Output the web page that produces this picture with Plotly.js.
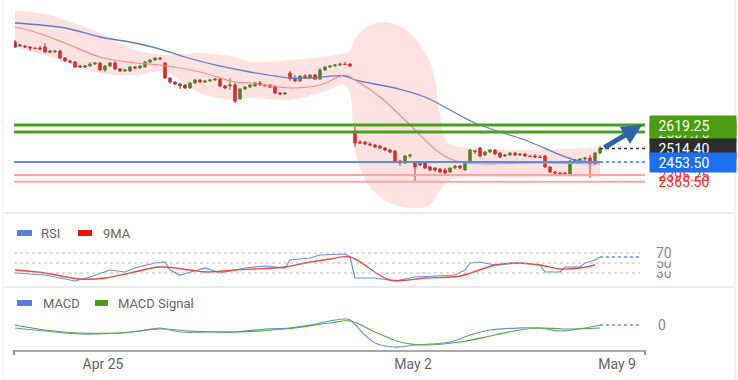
<!DOCTYPE html>
<html><head><meta charset="utf-8">
<script src="https://cdn.plot.ly/plotly-3.0.1.min.js"></script>
<style>html,body{margin:0;padding:0;background:#fff;}#chart{width:738px;height:380px;}</style>
</head><body><div id="chart"></div>
<script>
// ---------- DATA ----------
const open = [
2991.1,2973.2,2973.2,2968.7,2964.2,2964.2,2968.7,2950.8,2946.3,2950.8,
2919.4,2906.0,2901.5,2883.6,2879.1,2883.6,2892.5,2897.0,2865.7,2883.6,
2897.0,2870.1,2861.2,2861.2,2879.1,2874.6,2879.1,2901.5,2910.5,2919.4,
2897.0,2829.8,2811.9,2802.9,2798.5,2785.0,2807.4,2820.9,2811.9,2816.4,
2820.9,2825.3,2794.0,2794.0,2798.5,2735.7,2780.5,2789.5,2794.0,2807.4,
2798.5,2798.5,2789.5,2762.6,2758.1,2852.2,2825.3,2816.4,2838.8,2829.8,
2843.3,2825.3,2865.7,2879.1,2883.6,2888.1,2892.5,2892.5,2587.9,2543.1,
2543.1,2534.1,2529.7,2525.2,2516.2,2507.3,2502.8,2458.0,2449.0,2480.4,
2453.5,2440.1,2449.0,2431.1,2426.6,2422.1,2417.7,2408.7,2426.6,2435.6,
2417.7,2449.0,2498.3,2516.2,2484.9,2498.3,2507.3,2493.8,2480.4,2484.9,
2493.8,2484.9,2489.3,2480.4,2480.4,2475.9,2480.4,2431.1,2408.7,2404.2,
2404.2,2399.7,2458.0,2462.5,2466.9,2471.4,2444.5,2493.8];
const high = [
3000.1,2982.1,2977.7,2973.2,2968.7,2973.2,2986.6,2955.3,2955.3,2955.3,
2923.9,2910.5,2906.0,2888.1,2888.1,2901.5,2901.5,2901.5,2888.1,2901.5,
2906.0,2874.6,2870.1,2883.6,2883.6,2888.1,2906.0,2914.9,2923.9,2923.9,
2901.5,2834.3,2816.4,2807.4,2802.9,2811.9,2825.3,2825.3,2820.9,2825.3,
2829.8,2829.8,2798.5,2829.8,2807.4,2785.0,2794.0,2802.9,2811.9,2816.4,
2802.9,2802.9,2798.5,2767.1,2767.1,2861.2,2843.3,2843.3,2847.7,2847.7,
2847.7,2874.6,2883.6,2888.1,2892.5,2897.0,2901.5,2897.0,2610.3,2552.1,
2547.6,2543.1,2534.1,2529.7,2520.7,2511.7,2507.3,2462.5,2484.9,2489.3,
2458.0,2458.0,2453.5,2435.6,2431.1,2426.6,2426.6,2431.1,2440.1,2440.1,
2458.0,2511.7,2507.3,2520.7,2502.8,2511.7,2511.7,2498.3,2489.3,2498.3,
2498.3,2493.8,2493.8,2484.9,2489.3,2484.9,2484.9,2435.6,2413.2,2408.7,
2408.7,2462.5,2466.9,2471.4,2475.9,2484.9,2498.3,2525.2];
const low = [
2964.2,2968.7,2964.2,2950.8,2959.7,2955.3,2941.8,2941.8,2941.8,2914.9,
2901.5,2897.0,2874.6,2874.6,2874.6,2883.6,2888.1,2861.2,2856.7,2879.1,
2865.7,2856.7,2856.7,2856.7,2870.1,2870.1,2879.1,2897.0,2906.0,2910.5,
2825.3,2802.9,2798.5,2780.5,2780.5,2780.5,2802.9,2807.4,2807.4,2811.9,
2816.4,2789.5,2780.5,2776.1,2717.8,2731.3,2776.1,2785.0,2789.5,2794.0,
2789.5,2785.0,2758.1,2753.7,2753.7,2816.4,2811.9,2811.9,2825.3,2825.3,
2820.9,2820.9,2861.2,2874.6,2879.1,2883.6,2888.1,2879.1,2520.7,2534.1,
2529.7,2525.2,2516.2,2511.7,2502.8,2493.8,2449.0,2435.6,2444.5,2471.4,
2363.9,2435.6,2422.1,2413.2,2408.7,2404.2,2399.7,2404.2,2422.1,2422.1,
2413.2,2444.5,2489.3,2475.9,2480.4,2493.8,2484.9,2471.4,2475.9,2480.4,
2480.4,2480.4,2475.9,2475.9,2471.4,2471.4,2426.6,2404.2,2399.7,2395.3,
2395.3,2395.3,2449.0,2453.5,2458.0,2381.8,2440.1,2489.3];
const close = [
2968.7,2977.7,2968.7,2964.2,2962.0,2959.7,2946.3,2946.3,2950.8,2919.4,
2906.0,2901.5,2879.1,2879.1,2883.6,2892.5,2897.0,2865.7,2883.6,2897.0,
2870.1,2861.2,2865.7,2879.1,2874.6,2883.6,2901.5,2910.5,2919.4,2914.9,
2829.8,2811.9,2802.9,2794.0,2785.0,2807.4,2820.9,2811.9,2816.4,2820.9,
2825.3,2794.0,2785.0,2798.5,2726.8,2780.5,2789.5,2798.5,2807.4,2798.5,
2796.0,2789.5,2762.6,2758.1,2762.6,2825.3,2816.4,2838.8,2829.8,2843.3,
2825.3,2865.7,2879.1,2883.6,2888.1,2892.5,2890.0,2883.6,2538.6,2538.6,
2534.1,2529.7,2520.7,2516.2,2507.3,2498.3,2453.5,2449.0,2480.4,2484.9,
2431.1,2453.5,2426.6,2417.7,2417.7,2408.7,2404.2,2426.6,2435.6,2426.6,
2453.5,2507.3,2502.8,2480.4,2498.3,2507.3,2489.3,2475.9,2484.9,2493.8,
2484.9,2489.3,2480.4,2478.0,2475.9,2473.5,2431.1,2408.7,2404.2,2399.7,
2401.0,2458.0,2462.5,2466.9,2471.4,2444.5,2493.8,2514.4];

const slowMaIdx = [0,10,17,24,29,34,40,47,55,59,66,68,76,82,92,102,112,117];
const slowMa = [3076.2,3053.8,3013.5,2986.6,2959.7,2923.9,2888.1,2856.7,2829.8,2829.8,2838.8,2820.9,2785.0,2744.7,2628.2,2552.1,2462.5,2453.5];
const fastMaIdx = [0,4,10,17,24,29,37,44,47,55,61,66,68,73,78,85,89,105,117];
const fastMa = [3058.3,3035.9,2986.6,2923.9,2897.0,2888.1,2856.7,2811.9,2807.4,2785.0,2798.5,2843.3,2820.9,2744.7,2641.7,2493.8,2453.5,2449.0,2444.5];
const bandIdx = [0,7,10,17,24,30,37,44,47,55,61,66,67,68,70,73,76,79,81,83,84,85,86,87,91,100,110,117];
const bandUpper = [3134.5,3112.1,3089.7,3031.4,2955.3,2932.9,2941.8,2923.9,2901.5,2910.5,2923.9,2941.8,2955.3,3004.5,3053.8,3080.7,3071.7,3031.4,2977.7,2901.5,2820.9,2664.1,2561.0,2534.1,2516.2,2507.3,2511.7,2520.7];
const bandLower = [2968.7,2923.9,2901.5,2852.2,2843.3,2856.7,2762.6,2731.3,2740.2,2731.3,2762.6,2798.5,2762.6,2507.3,2372.9,2296.7,2260.9,2247.4,2247.4,2260.9,2292.2,2328.1,2354.9,2372.9,2386.3,2381.8,2386.3,2386.3];

const levelValues = [2619.25, 2587.75, 2453.50, 2395.25, 2365.50];
const levelKinds  = ['res','res','ma','sup','sup'];

const rsiIdx = [0,6,12,15,19,22,24,28,30,31,33,37,38,41,46,50,54,55,59,61,66,67,68,72,76,80,88,90,91,93,96,101,105,106,109,110,113,114,116,117];
const rsi = [30,26,14,22,36,32,40,50,52,36,26,36,40,30,40,44,40,56,60,66,68,62,20,20,14,22,26,36,50,52,46,50,46,32,32,42,42,50,56,62];
const rsiMaIdx = [0,6,13,18,23,29,35,38,44,54,58,63,67,75,82,89,96,100,105,109,113,116];
const rsiMa = [36,30,18,20,30,42,36,32,36,42,50,58,62,16,20,24,46,50,46,38,40,46];
const rsiLevels = [30,50,70];

const macdIdx = [0,6,13,21,25,29,33,39,44,50,55,59,63,66,67,70,72,76,80,87,91,95,101,105,109,114,117];
const macd = [-12,-24,-36,-32,-24,-12,-28,-28,-28,-16,-12,0,16,24,20,-40,-72,-88,-80,-68,-40,-20,-12,-12,-24,-12,0];
const sigIdx = [0,6,13,21,29,35,44,54,63,67,72,77,82,89,96,101,105,110,117];
const sig = [0,-20,-32,-32,-16,-24,-28,-16,8,16,-28,-68,-80,-68,-40,-20,-12,-16,-12];

const tickPos = [17.6, 79.6, 120.4];
const tickText = ['Apr 25','May 2','May 9'];

// ---------- LAYOUT HELPERS ----------
const W=738,H=380,ML=14,MR=93,MT=0,MB=30;
const PW=W-ML-MR, PH=H-MT-MB;
const px = x => (x-ML)/PW;
const py = y => (MT+PH-y)/PH;
const xRange=[-0.2,126];
const notchX = 126.5;
const idx = open.map((_,i)=>i);
const lastIdx = idx[idx.length-1];
const lastClose = close[close.length-1];
const lastSlow = slowMa[slowMa.length-1];
const FONT='Roboto, Arial, sans-serif';

const cBlueLine='#6b8fe3', cRed='#e84a40', cGreen='#4b9f1e';
const cLabGreen='#4a9d0f', cLabBlack='#2d2d2d', cLabBlue='#1c6ff0';

const traces = [
 {x:bandIdx,y:bandUpper,type:'scatter',mode:'lines',line:{width:0,shape:'spline',smoothing:1},xaxis:'x',yaxis:'y'},
 {x:bandIdx,y:bandLower,type:'scatter',mode:'lines',line:{width:0,shape:'spline',smoothing:1},fill:'tonexty',fillcolor:'rgba(250,60,60,0.15)',xaxis:'x',yaxis:'y'},
 {x:slowMaIdx,y:slowMa,type:'scatter',mode:'lines',line:{color:'#5a7fc4',width:1.3,shape:'spline'},xaxis:'x',yaxis:'y'},
 {x:fastMaIdx,y:fastMa,type:'scatter',mode:'lines',line:{color:'#f08c8c',width:1.2,shape:'spline'},xaxis:'x',yaxis:'y'},
 {x:idx,open:open,high:high,low:low,close:close,type:'candlestick',xaxis:'x',yaxis:'y',
  increasing:{line:{color:'#3f8a2a',width:1},fillcolor:'#3f8a2a'},
  decreasing:{line:{color:'#c92f2f',width:1},fillcolor:'#c92f2f'},whiskerwidth:0},
 {x:[lastIdx,xRange[1]],y:[lastClose,lastClose],type:'scatter',mode:'lines',line:{color:'#333',width:1.5,dash:'dot'},xaxis:'x',yaxis:'y'},
 {x:[lastIdx,xRange[1]],y:[lastSlow,lastSlow],type:'scatter',mode:'lines',line:{color:'#3b74e0',width:1.5,dash:'dot'},xaxis:'x',yaxis:'y'},
 {x:[notchX,notchX,notchX],y:[levelValues[0],lastClose,levelValues[2]],type:'scatter',mode:'markers',cliponaxis:false,
  marker:{symbol:'triangle-left',size:9,color:[cLabGreen,cLabBlack,cLabBlue],line:{width:0}},xaxis:'x',yaxis:'y'},
 {x:rsiIdx,y:rsi,type:'scatter',mode:'lines',line:{color:cBlueLine,width:1.2},xaxis:'x',yaxis:'y2'},
 {x:rsiMaIdx,y:rsiMa,type:'scatter',mode:'lines',line:{color:cRed,width:1.4,shape:'spline'},xaxis:'x',yaxis:'y2'},
 {x:[lastIdx,125],y:[rsi[rsi.length-1],rsi[rsi.length-1]],type:'scatter',mode:'lines',line:{color:cBlueLine,width:1.3,dash:'dot'},xaxis:'x',yaxis:'y2'},
 {x:macdIdx,y:macd,type:'scatter',mode:'lines',line:{color:cBlueLine,width:1.2,shape:'spline'},xaxis:'x',yaxis:'y3'},
 {x:sigIdx,y:sig,type:'scatter',mode:'lines',line:{color:'#5aaa3a',width:1.2,shape:'spline'},xaxis:'x',yaxis:'y3'},
 {x:[lastIdx,125],y:[macd[macd.length-1],macd[macd.length-1]],type:'scatter',mode:'lines',line:{color:cBlueLine,width:1.3,dash:'dot'},xaxis:'x',yaxis:'y3'}
];
traces.forEach(t=>{t.showlegend=false;t.hoverinfo='skip';});

const shapes=[];
const levelStyle = {res:{color:cGreen,width:3}, ma:{color:'#5b8de6',width:1.8}, sup:{color:'#f6a8a8',width:2}};
levelValues.forEach((v,k)=>{
  const st=levelStyle[levelKinds[k]];
  if(levelKinds[k]==='ma'){
    shapes.push({type:'line',xref:'x',yref:'y',x0:xRange[0],x1:lastIdx,y0:v,y1:v,line:st,layer:'above'});
  } else {
    shapes.push({type:'line',xref:'paper',yref:'y',x0:0,x1:1,y0:v,y1:v,line:st,layer:'above'});
  }
});
rsiLevels.forEach(v=>shapes.push({type:'line',xref:'paper',yref:'y2',x0:0,x1:px(640),y0:v,y1:v,line:{color:'#bbb',width:1,dash:'dot'}}));
[213,287].forEach(y=>shapes.push({type:'line',xref:'paper',yref:'paper',x0:px(3),x1:px(735),y0:py(y),y1:py(y),line:{color:'#e9ecef',width:2}}));
[3,735].forEach(x=>shapes.push({type:'line',xref:'paper',yref:'paper',x0:px(x),x1:px(x),y0:py(380),y1:py(0),line:{color:'#eef0f2',width:1.5}}));
[0,1].forEach(x=>shapes.push({type:'line',xref:'paper',yref:'paper',x0:x,x1:x,y0:0,y1:py(355),line:{color:'#999',width:2}}));
const sw=(x0,x1,y,c)=>shapes.push({type:'rect',xref:'paper',yref:'paper',x0:px(x0),x1:px(x1),y0:py(y-3),y1:py(y+3),fillcolor:c,line:{width:0}});
sw(17,32,233,'#5b7fe0'); sw(78,92,233,'#e8130f');
sw(17,32,303,'#5b7fe0'); sw(95,108,303,'#4a9e12');

const ann=[];
const lab=(v,bg,fc)=>ann.push({xref:'paper',yref:'y',x:px(649),xanchor:'left',y:v,yanchor:'middle',text:'\u00a0\u00a0'+v.toFixed(2),showarrow:false,bgcolor:bg,font:{color:fc,size:14,family:FONT},width:83,align:'left',borderpad:1.5});
lab(levelValues[1],cLabGreen,'#fff');
lab(levelValues[0],cLabGreen,'#fff');
lab(levelValues[3],'rgba(0,0,0,0)','#ff2a2a');
lab(levelValues[4],'rgba(0,0,0,0)','#ff2a2a');
lab(lastClose,cLabBlack,'#fff');
lab(levelValues[2],cLabBlue,'#fff');
rsiLevels.forEach(v=>ann.push({xref:'paper',yref:'y2',x:px(655),xanchor:'left',y:v,yanchor:'middle',text:String(v),showarrow:false,bgcolor:'#fff',font:{color:'#888',size:14,family:FONT},borderpad:0}));
ann.push({xref:'paper',yref:'y3',x:px(656),xanchor:'left',y:0,yanchor:'middle',text:'0',showarrow:false,font:{color:'#888',size:14,family:FONT}});
const lt=(x,y,t)=>ann.push({xref:'paper',yref:'paper',x:px(x),xanchor:'left',y:py(y),yanchor:'middle',text:t,showarrow:false,font:{color:'#666',size:13,family:FONT},borderpad:0});
lt(40,233,'RSI'); lt(102,233,'9MA'); lt(42,303,'MACD'); lt(117,303,'MACD Signal');
ann.push({xref:'x',yref:'y',x:125.4,y:levelValues[0],axref:'x',ayref:'y',ax:lastIdx+0.6,ay:lastClose,showarrow:true,arrowhead:2,arrowsize:0.8,arrowwidth:5,arrowcolor:'#2f63a8',text:''});

const layout={
  width:W,height:H,margin:{l:ML,r:MR,t:MT,b:MB},
  paper_bgcolor:'#fff',plot_bgcolor:'#fff',
  font:{family:FONT,color:'#666'},
  showlegend:false,
  xaxis:{range:xRange,anchor:'y3',showgrid:false,zeroline:false,showline:true,linecolor:'#aaa',linewidth:2,
    tickmode:'array',tickvals:tickPos,ticktext:tickText,ticks:'',tickfont:{size:14,color:'#666'},rangeslider:{visible:false},fixedrange:true},
  yaxis:{domain:[py(210),1],range:[2238.45,3179.25],visible:false,fixedrange:true},
  yaxis2:{domain:[py(285),py(240)],range:[6,96],visible:false,fixedrange:true},
  yaxis3:{domain:[0,py(312)],range:[-100,52],visible:false,fixedrange:true},
  shapes:shapes,annotations:ann
};
Plotly.newPlot('chart',traces,layout,{staticPlot:true,displayModeBar:false});
</script></body></html>
